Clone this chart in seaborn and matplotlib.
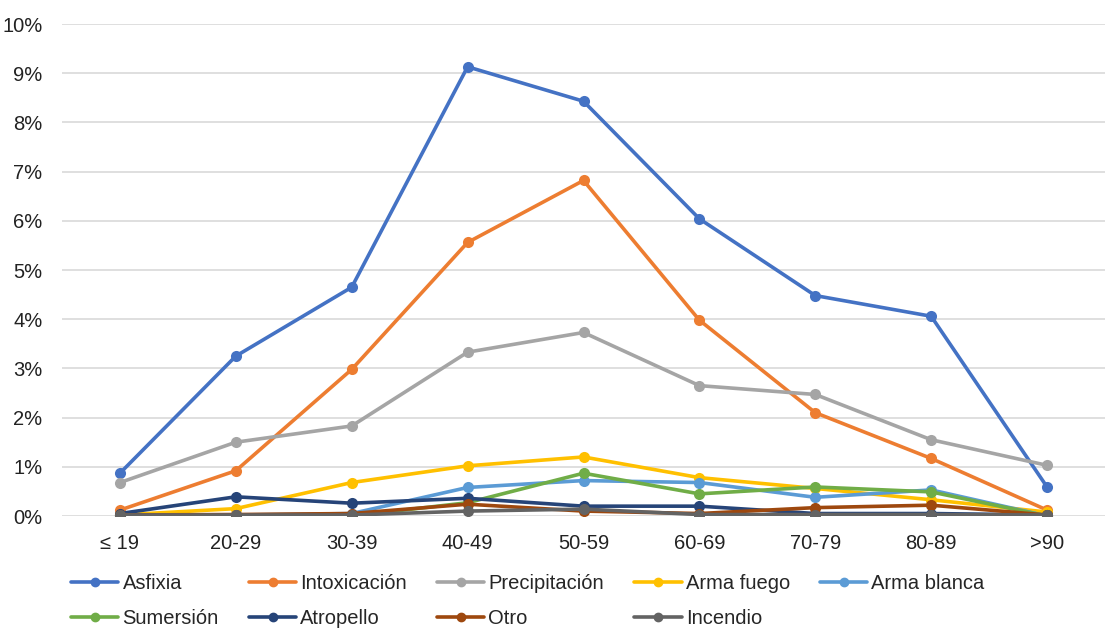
import matplotlib
matplotlib.use('Agg')
import matplotlib.pyplot as plt
import numpy as np
import pandas as pd
import seaborn as sns
from matplotlib.ticker import PercentFormatter

# Grupos de edad y porcentajes por causa
grupos = ['≤ 19', '20-29', '30-39', '40-49', '50-59', '60-69', '70-79', '80-89', '>90']

asfixia = [0.87, 3.25, 4.65, 9.13, 8.43, 6.04, 4.48, 4.06, 0.59]
intoxicacion = [0.12, 0.92, 2.98, 5.56, 6.82, 3.98, 2.10, 1.17, 0.12]
precipitacion = [0.68, 1.50, 1.83, 3.33, 3.73, 2.65, 2.47, 1.55, 1.03]
arma_fuego = [0.02, 0.15, 0.68, 1.02, 1.20, 0.78, 0.56, 0.33, 0.08]
arma_blanca = [0.00, 0.02, 0.05, 0.58, 0.72, 0.68, 0.38, 0.53, 0.00]
sumersion = [0.00, 0.00, 0.00, 0.27, 0.87, 0.45, 0.59, 0.49, 0.00]
atropello = [0.05, 0.39, 0.26, 0.36, 0.20, 0.20, 0.05, 0.05, 0.02]
otro = [0.02, 0.03, 0.05, 0.24, 0.10, 0.05, 0.17, 0.22, 0.02]
incendio = [0.02, 0.02, 0.02, 0.10, 0.14, 0.03, 0.03, 0.03, 0.02]

causas = ['Asfixia', 'Intoxicación', 'Precipitación', 'Arma fuego', 'Arma blanca',
          'Sumersión', 'Atropello', 'Otro', 'Incendio']
series = [asfixia, intoxicacion, precipitacion, arma_fuego, arma_blanca,
          sumersion, atropello, otro, incendio]
colores = ['#4472C4', '#ED7D31', '#A5A5A5', '#FFC000', '#5B9BD5',
           '#70AD47', '#264478', '#9E480E', '#636363']

rows = []
for causa, vals in zip(causas, series):
    for i, v in enumerate(vals):
        rows.append({'causa': causa, 'x': i, 'valor': v})
df = pd.DataFrame(rows)

sns.set_style('white')
plt.rcParams['font.family'] = ['Liberation Sans', 'DejaVu Sans']

fig = plt.figure(figsize=(11.05, 6.31), dpi=100)
ax = fig.add_axes([62 / 1105, 1 - 516 / 631, 1043 / 1105, 492 / 631])

sns.lineplot(data=df, x='x', y='valor', hue='causa', hue_order=causas,
             palette=colores, ax=ax, linewidth=2.6, marker='o', markersize=8,
             markeredgewidth=0, legend=False, sort=False)

ax.set_xlim(-0.5, 8.5)
ax.set_ylim(0, 10)
ax.set_yticks(np.arange(0, 11, 1))
ax.yaxis.set_major_formatter(PercentFormatter(decimals=0))
ax.set_xticks(range(len(grupos)))
ax.set_xticklabels(grupos)
ax.set_xlabel('')
ax.set_ylabel('')
ax.grid(axis='y', color='#D9D9D9', linewidth=1.2)
ax.set_axisbelow(True)
for s in ax.spines.values():
    s.set_visible(False)
ax.tick_params(axis='both', length=0, labelsize=14.5, colors='#222222')
ax.tick_params(axis='x', pad=13)
ax.tick_params(axis='y', pad=14)

# leyenda en filas (matplotlib llena por columnas)
handles = [plt.Line2D([0], [0], color=c, linewidth=2.6, marker='o', markersize=6)
           for c in colores]
orden = [0, 5, 1, 6, 2, 7, 3, 8, 4]
fig.legend([handles[i] for i in orden], [causas[i] for i in orden],
           loc='lower left', bbox_to_anchor=(53 / 1105, -15 / 631),
           ncol=5, frameon=False, handlelength=2.35, handletextpad=0.2,
           columnspacing=1.5, labelspacing=0.8,
           prop={'family': ['Liberation Sans', 'DejaVu Sans'], 'size': 14.5})

fig.savefig('out.png', dpi=100)
